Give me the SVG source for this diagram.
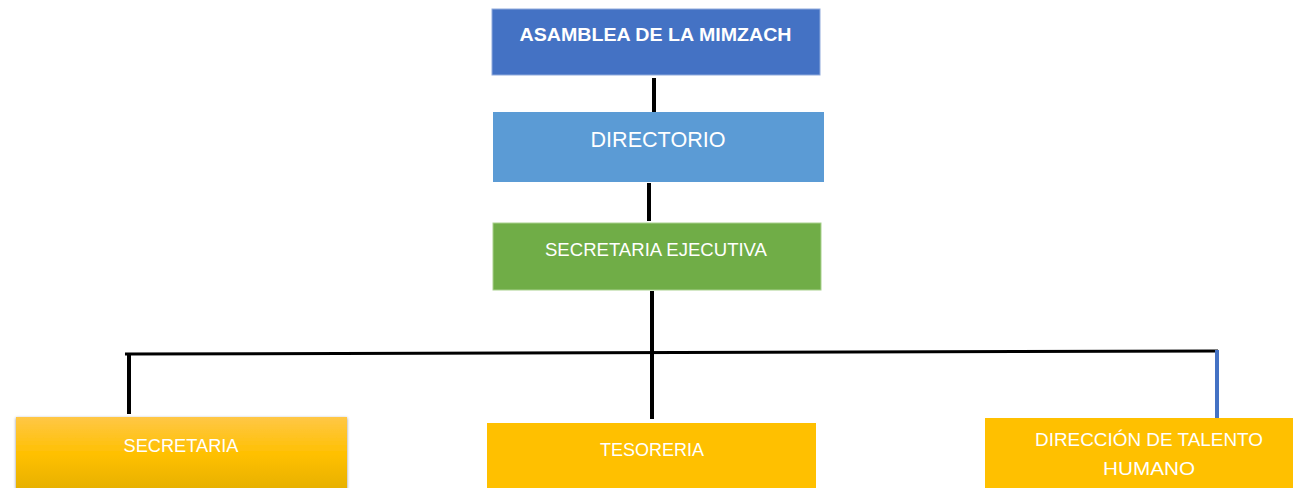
<svg xmlns="http://www.w3.org/2000/svg" width="1293" height="488" viewBox="0 0 1293 488">
<defs>
<style>
.t{font-family:"Liberation Sans",Arial,sans-serif;fill:#fff;text-anchor:middle}
.c{stroke:#000;stroke-width:4;fill:none}
</style>
<linearGradient id="g1" x1="0" y1="0" x2="0" y2="1">
<stop offset="0" stop-color="#FFC746"/>
<stop offset="0.5" stop-color="#FFC000"/>
<stop offset="1" stop-color="#E5AF00"/>
</linearGradient>
<filter id="sh" x="-5%" y="-5%" width="110%" height="120%">
<feDropShadow dx="0" dy="1" stdDeviation="1.5" flood-color="#000" flood-opacity="0.45"/>
</filter>
</defs>
<rect width="1293" height="488" fill="#fff"/>
<g id="connectors">
<line class="c" x1="654" y1="78" x2="654" y2="112"/>
<line class="c" x1="649" y1="183" x2="649" y2="221"/>
<line class="c" x1="652" y1="291" x2="652" y2="419"/>
<line x1="125" y1="354" x2="1218" y2="351" stroke="#000" stroke-width="3"/>
<line class="c" x1="129" y1="355" x2="129" y2="414"/>
<line x1="1217" y1="350" x2="1217" y2="419" stroke="#4472C4" stroke-width="4"/>
</g>
<g id="asamblea">
<rect x="492" y="9" width="328" height="66" fill="#4472C4" stroke="#8FAADC" stroke-width="1"/>
<text class="t" x="655.5" y="41" font-size="18" font-weight="bold" textLength="272" lengthAdjust="spacingAndGlyphs">ASAMBLEA DE LA MIMZACH</text>
</g>
<g id="directorio">
<rect x="493" y="112" width="331" height="70" fill="#5B9BD5"/>
<text class="t" x="658" y="147" font-size="22" textLength="135" lengthAdjust="spacingAndGlyphs">DIRECTORIO</text>
</g>
<g id="secretaria-ejecutiva">
<rect x="493" y="223" width="328" height="67" fill="#70AD47" stroke="#A9D18E" stroke-width="1"/>
<text class="t" x="656" y="256" font-size="18" textLength="222" lengthAdjust="spacingAndGlyphs">SECRETARIA EJECUTIVA</text>
</g>
<g id="secretaria">
<rect x="16" y="417" width="331" height="75" fill="url(#g1)" filter="url(#sh)"/>
<text class="t" x="181" y="452" font-size="18" textLength="115" lengthAdjust="spacingAndGlyphs">SECRETARIA</text>
</g>
<g id="tesoreria">
<rect x="487" y="423" width="329" height="70" fill="#FFC000"/>
<text class="t" x="652" y="456" font-size="18" textLength="104" lengthAdjust="spacingAndGlyphs">TESORERIA</text>
</g>
<g id="talento-humano">
<rect x="985" y="418" width="310" height="75" fill="#FFC000"/>
<text class="t" x="1149" y="446" font-size="18" textLength="228" lengthAdjust="spacingAndGlyphs">DIRECCIÓN DE TALENTO</text>
<text class="t" x="1149" y="475" font-size="18" textLength="92" lengthAdjust="spacingAndGlyphs">HUMANO</text>
</g>
</svg>
